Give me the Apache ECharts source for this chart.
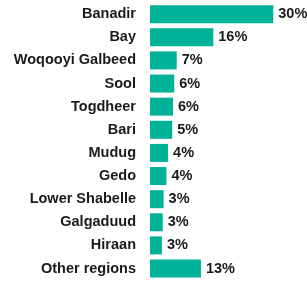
<!DOCTYPE html>
<html>
<head>
<meta charset="UTF-8">
<title>Regions</title>
<style>
  html, body { margin: 0; padding: 0; background: #fff; }
  #chart { width: 307px; height: 282px; }
</style>
</head>
<body>
<div id="chart"></div>
<script src="https://cdn.jsdelivr.net/npm/echarts@6/dist/echarts.min.js"></script>
<script>
var regions = ['Banadir', 'Bay', 'Woqooyi Galbeed', 'Sool', 'Togdheer', 'Bari', 'Mudug', 'Gedo', 'Lower Shabelle', 'Galgaduud', 'Hiraan', 'Other regions'];
var shares = [30, 15.4, 6.5, 5.9, 5.6, 5.4, 4.4, 4.0, 3.3, 3.1, 2.9, 12.4];
var shareLabels = ['30%', '16%', '7%', '6%', '6%', '5%', '4%', '4%', '3%', '3%', '3%', '13%'];

var chart = echarts.init(document.getElementById('chart'));
var option = {
  animation: false,
  grid: {
    left: 150,
    right: 33.7,
    top: 2.6,
    bottom: 1.9,
    containLabel: false
  },
  xAxis: {
    type: 'value',
    min: 0,
    max: 30,
    show: false
  },
  yAxis: {
    type: 'category',
    inverse: true,
    data: regions,
    axisLine: { show: false },
    axisTick: { show: false },
    splitLine: { show: false },
    axisLabel: {
      margin: 14,
      color: '#1a1a1a',
      fontFamily: 'Liberation Sans',
      fontWeight: 'bold',
      fontSize: 14.5
    }
  },
  series: [{
    type: 'bar',
    data: shares,
    barWidth: 18,
    itemStyle: { color: '#00b398' },
    label: {
      show: true,
      position: 'right',
      distance: 5,
      color: '#1a1a1a',
      fontFamily: 'Liberation Sans',
      fontWeight: 'bold',
      fontSize: 14.5,
      formatter: function (p) { return shareLabels[p.dataIndex]; }
    }
  }]
};
chart.setOption(option);
</script>
</body>
</html>
